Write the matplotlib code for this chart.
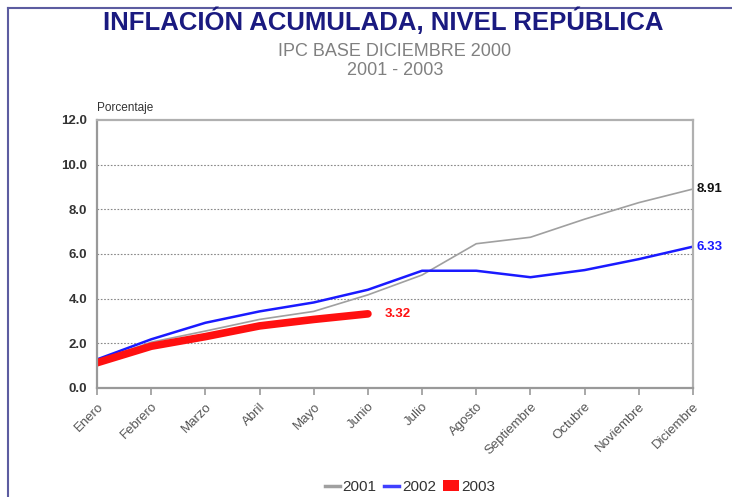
import matplotlib
matplotlib.use("Agg")
import matplotlib.pyplot as plt
from matplotlib.lines import Line2D
from matplotlib.patches import Patch

months = ["Enero", "Febrero", "Marzo", "Abril", "Mayo", "Junio", "Julio",
          "Agosto", "Septiembre", "Octubre", "Noviembre", "Diciembre"]
y2001 = [1.20, 2.05, 2.55, 3.07, 3.43, 4.17, 5.06, 6.46, 6.75, 7.56, 8.30, 8.91]
y2002 = [1.28, 2.18, 2.92, 3.43, 3.83, 4.40, 5.25, 5.25, 4.96, 5.28, 5.77, 6.33]
y2003 = [1.13, 1.87, 2.30, 2.78, 3.07, 3.32]
yticks = [0, 2, 4, 6, 8, 10, 12]

plt.rcParams['font.family'] = ['Liberation Sans', 'DejaVu Sans']

fig = plt.figure(figsize=(7.32, 4.97), dpi=100)
ax = fig.add_axes([97/732, 1-388/497, (693-97)/732, (388-120)/497])

x = list(range(len(months)))
ax.plot(x, y2001, color="#a0a0a0", lw=1.2, solid_capstyle="round")
ax.plot(x, y2002, color="#1a1aff", lw=1.8, solid_capstyle="round")
ax.plot(x[:len(y2003)], y2003, color="#ff1010", lw=5.5, solid_capstyle="round")

ax.set_xlim(0, len(months)-1)
ax.set_ylim(0, 12)
ax.set_yticks(yticks)
ax.set_yticklabels([f"{v:.1f}" for v in yticks], fontsize=9.5, fontweight="bold", color="#333333")
ax.set_xticks(x)
ax.set_xticklabels(months, rotation=45, ha="right", va="top", rotation_mode="anchor",
                   fontsize=9.5, color="#555555")
ax.tick_params(axis="x", direction="out", length=5, width=1.2, color="#999999", pad=4)
ax.tick_params(axis="y", length=0, pad=7)
for s in ax.spines.values():
    s.set_color("#b0b0b0")
    s.set_linewidth(1.6)
ax.spines["left"].set_color("#999999")
ax.spines["bottom"].set_color("#999999")
for v in yticks[1:-1]:
    ax.axhline(v, color="#888888", lw=0.8, ls=(0, (1.5, 1.5)), zorder=0)

ax.text(len(y2003)-1 + 0.3, y2003[-1], f"{y2003[-1]:.2f}", color="#ff1010",
        fontsize=9.5, fontweight="bold", va="center", ha="left")
ax.text(len(months)-1 + 0.07, y2001[-1], f"{y2001[-1]:.2f}", color="#111111",
        fontsize=9.5, fontweight="bold", va="center", ha="left", clip_on=False)
ax.text(len(months)-1 + 0.07, y2002[-1], f"{y2002[-1]:.2f}", color="#1a1aff",
        fontsize=9.5, fontweight="bold", va="center", ha="left", clip_on=False)

fig.text(97/732, 1-108/497, "Porcentaje", fontsize=8.5, color="#333333", ha="left", va="center")

fig.text(383/732, 1-21/497, "INFLACIÓN ACUMULADA, NIVEL REPÚBLICA", fontsize=18.5,
         fontweight="bold", color="#1a1a80", ha="center", va="center")
fig.text(395/732, 1-51/497, "IPC BASE DICIEMBRE 2000", fontsize=13, color="#808080",
         ha="center", va="center")
fig.text(395/732, 1-71/497, "2001 - 2003", fontsize=13, color="#808080",
         ha="center", va="center")

# outer border (top and left)
fig.add_artist(Line2D([8/732, 1], [1-8/497, 1-8/497], color="#5c5ca0", lw=1.5))
fig.add_artist(Line2D([8/732, 8/732], [0, 1-8/497], color="#5c5ca0", lw=1.5))

handles = [Line2D([], [], color="#a0a0a0", lw=2.5),
           Line2D([], [], color="#4040ff", lw=2.5),
           Patch(facecolor="#ff1010", edgecolor="none")]
fig.legend(handles, ["2001", "2002", "2003"], loc="center", bbox_to_anchor=(410/732, 1-487/497),
           ncol=3, frameon=False, fontsize=11, handlelength=1.0, handletextpad=0.15,
           columnspacing=0.5, handleheight=0.7)
for t in fig.legends[0].get_texts():
    t.set_color("#333333")

fig.savefig("out.png", dpi=100)
